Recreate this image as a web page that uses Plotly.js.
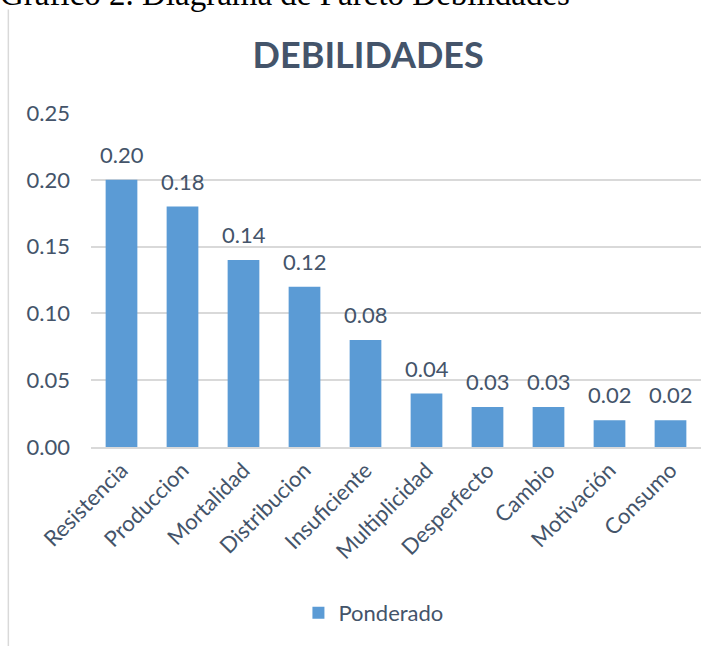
<!DOCTYPE html>
<html>
<head>
<meta charset="utf-8">
<script src="https://cdn.plot.ly/plotly-3.0.1.min.js"></script>
<style>
  body { margin: 0; background: #fff; }
  #myDiv { width: 715px; height: 646px; }
</style>
</head>
<body>
<div id="myDiv"></div>
<script>
var categories = ["Resistencia", "Produccion", "Mortalidad", "Distribucion", "Insuficiente",
        "Multiplicidad", "Desperfecto", "Cambio", "Motivación", "Consumo"]
var ponderado = [0.20, 0.18, 0.14, 0.12, 0.08, 0.04, 0.03, 0.03, 0.02, 0.02]
var yticks = [0, 0.05, 0.10, 0.15, 0.20, 0.25]

var textColor = '#44546A'
var labelFont = {family: 'Lato, "Open Sans", sans-serif', size: 22, color: textColor}

var trace1 = {
    type: 'bar',
    name: 'Ponderado',
    x: categories,
    y: ponderado,
    width: 0.52,
    marker: {
        color: '#5B9BD5'
    },
    hoverinfo: 'x+y'
};

// value labels sit a bit above each bar, like the Excel data labels
var labels = categories.map(function (c, i) {
    return {
        x: c, y: ponderado[i], xref: 'x', yref: 'y',
        text: ponderado[i].toFixed(2),
        showarrow: false, yanchor: 'bottom', yshift: 10,
        font: labelFont
    }
})

// the caption of the scanned document, cut at the top edge
labels.push({
    xref: 'paper', yref: 'paper', x: -0.153, y: 1.296,
    xanchor: 'left', yanchor: 'bottom',
    text: 'Grafico 2. Diagrama de Pareto Debilidades',
    showarrow: false,
    font: {family: '"Liberation Serif", "Times New Roman", serif', size: 33, color: '#000'}
})

var layout = {
  width: 715,
  height: 646,
  margin: {l: 91, r: 14, t: 113, b: 199, autoexpand: false},
  paper_bgcolor: '#fff',
  plot_bgcolor: '#fff',
  font: labelFont,
  title: {
    text: '<b>DEBILIDADES</b>',
    font: {family: 'Lato, "Open Sans", sans-serif', size: 36, color: textColor},
    x: 0.515, xanchor: 'center',
    y: 0.915, yanchor: 'middle', yref: 'container'
  },
  xaxis: {
    tickangle: -45,
    tickfont: labelFont,
    showgrid: false,
    showline: true,
    linecolor: '#D9D9D9',
    linewidth: 1.5,
    ticks: '',
    automargin: false,
    fixedrange: true
  },
  yaxis: {
    range: [0, 0.25],
    tickvals: yticks,
    tickformat: '.2f',
    tickfont: labelFont,
    ticklabelstandoff: 20,
    gridcolor: '#D9D9D9',
    gridwidth: 1.5,
    zeroline: false,
    showline: false,
    ticks: '',
    automargin: false,
    fixedrange: true
  },
  showlegend: true,
  legend: {
    orientation: 'h',
    x: 0.463, xanchor: 'center',
    y: -0.497, yanchor: 'middle',
    font: labelFont
  },
  annotations: labels,
  shapes: [{
    type: 'line', xref: 'paper', yref: 'paper',
    x0: -0.1355, x1: -0.1355, y0: 1.31, y1: -0.61,
    line: {color: '#D9D9D9', width: 1.5}
  }]
};

Plotly.newPlot('myDiv', [trace1], layout, {displayModeBar: false});
</script>
</body>
</html>
